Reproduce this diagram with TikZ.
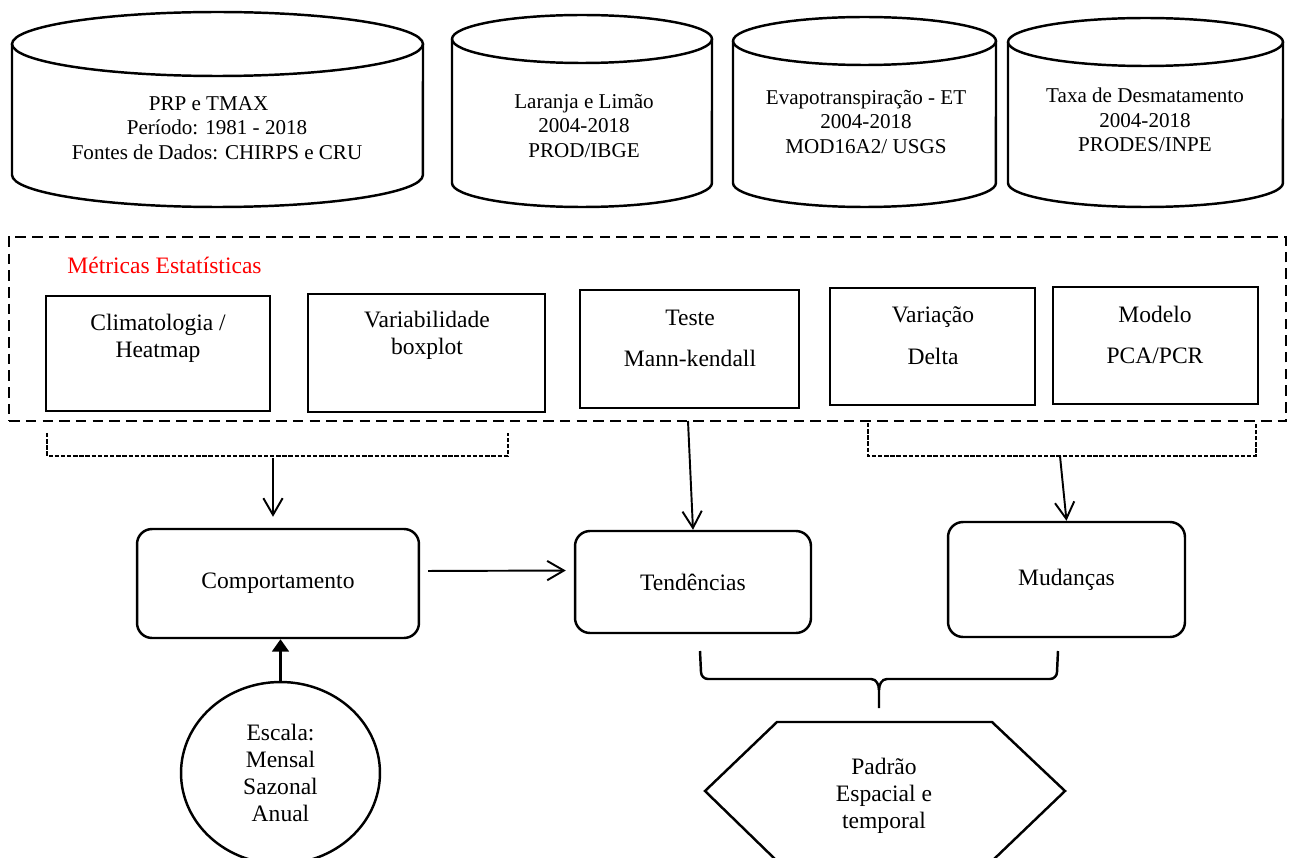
\documentclass[tikz,border=0pt]{standalone}
\usepackage{fontspec}
\setmainfont{Liberation Serif}
\usetikzlibrary{arrows.meta,positioning,shapes.geometric}

\begin{document}
\begin{tikzpicture}[
  x=0.02cm, y=-0.02cm,
  txt/.style={align=center, font=\fontsize{13.4}{15.4}\selectfont},
  dbtxt/.style={align=center, font=\fontsize{12}{13.9}\selectfont},
  cyl/.style={line width=1.4pt},
  mbox/.style={draw, line width=1.3pt, inner sep=0pt},
  rbox/.style={draw, line width=1.4pt, rounded corners=0.3cm, inner sep=0pt, txt},
  dashbox/.style={draw, line width=1.2pt, dash pattern=on 6pt off 3.5pt},
  brk/.style={line width=0.9pt, dash pattern=on 2.5pt off 1pt},
  arr/.style={line width=1.1pt, -{Straight Barb[length=9.5pt,width=11pt]}},
  brace/.style={line width=1.4pt}
]
  \useasboundingbox (0,0) rectangle (1296,858);

  % bases de dados
  \foreach \xl/\xr/\yt/\yb/\rx/\ry in {12/423/44/175/4.11cm/0.64cm, 452/712/39/183/2.6cm/0.48cm,
                                     733/996/41/183/2.63cm/0.48cm, 1008/1283/42/183/2.75cm/0.48cm}{
    \draw[cyl] (\xl,\yt) -- (\xl,\yb) arc[start angle=180, end angle=360, x radius=\rx, y radius=\ry] -- (\xr,\yt);
    \draw[cyl] ({(\xl+\xr)/2},\yt) ellipse[x radius=\rx, y radius=\ry];
  }
  \node[dbtxt] (prp) at (217,128) {PRP e TMAX\hspace*{0.8em}\\Período: 1981 - 2018\\Fontes de Dados: CHIRPS e CRU};
  \node[dbtxt] (laranja) at (584,126) {Laranja e Limão\\2004-2018\\PROD/IBGE};
  \node[dbtxt] (evapo) at (866,122) {Evapotranspiração - ET\\2004-2018\\MOD16A2/ USGS};
  \node[dbtxt] (taxa) at (1145,120) {Taxa de Desmatamento\\2004-2018\\PRODES/INPE};

  % metricas
  \node[dashbox, minimum width=25.54cm, minimum height=3.68cm] (metricas) at (647.5,329) {};
  \node[txt, text=red] (titulo) at (164.5,265) {Métricas Estatísticas};

  \node[mbox, minimum width=4.48cm, minimum height=2.3cm] (clim) at (158,353.5) {};
  \node[mbox, minimum width=4.74cm, minimum height=2.36cm] (vari) at (426.5,353) {};
  \node[mbox, minimum width=4.38cm, minimum height=2.36cm] (mk) at (689.5,349) {};
  \node[mbox, minimum width=4.1cm, minimum height=2.34cm] (delta) at (932.5,346.5) {};
  \node[mbox, minimum width=4.1cm, minimum height=2.34cm] (pca) at (1155.5,345.5) {};

  \node[txt] (climtxt) at (158,338) {Climatologia /\\Heatmap};
  \node[txt] (varitxt) at (427,335.5) {Variabilidade\\boxplot};
  \node[txt] (mktxt) at (690,338) {Teste\\[8pt]Mann-kendall};
  \node[txt] (deltatxt) at (933,335.5) {Variação\\[8.5pt]Delta};
  \node[txt] (pcatxt) at (1155,335) {Modelo\\[8pt]PCA/PCR};

  % agrupamentos
  \draw[brk] (47,433) -- (47,456) -- (508,456) -- (508,433);
  \draw[brk] (868,423) -- (868,456) -- (1256,456) -- (1256,423);
  \coordinate (lbr) at (273,458);
  \coordinate (tst) at (688,421);
  \coordinate (rbr) at (1060,456);

  % resultados
  \node[rbox, minimum width=5.64cm, minimum height=2.18cm] (comp) at (278,583.5) {Comportamento};
  \node[rbox, minimum width=4.72cm, minimum height=2.04cm] (tend) at (693,582) {Tendências};
  \node[rbox, minimum width=4.74cm, minimum height=2.3cm] (mud) at (1066.5,579.5) {Mudanças};

  \node[draw, ellipse, line width=1.4pt, minimum width=3.98cm, minimum height=3.64cm,
        inner sep=0pt, txt] (escala) at (280.5,773) {Escala:\\Mensal\\Sazonal\\Anual};

  \draw[arr, shorten >=0.22cm] (lbr) -- (lbr |- comp.north);
  \draw[arr] (tst) -- (tend.north);
  \draw[arr] (rbr) -- (mud.north);
  \draw[arr, shorten <=0.16cm, shorten >=0.16cm] ([yshift=0.25cm]comp.east) -- ([yshift=0.23cm]tend.west);
  \draw[line width=1.3pt, -{Triangle[length=7pt,width=9.5pt]}] (escala.north) -- (escala.north |- comp.south);

  % chave e padrao
  \draw[brace] (700,651) -- (701,672) to[out=-90,in=180] (708,679) -- (871,679)
    to[out=0,in=90] (879,690) -- (879,708);
  \draw[brace] (1058,651) -- (1057,672) to[out=-90,in=0] (1050,679) -- (887,679)
    to[out=180,in=90] (879,690);

  \draw[line width=1.4pt] (777,722) -- (992,722) -- (1065,791) -- (992,861) -- (777,861) -- (705,791) -- cycle;
  \node[txt] (padrao) at (884,796) {Padrão\\Espacial e\\temporal};
\end{tikzpicture}
\end{document}
